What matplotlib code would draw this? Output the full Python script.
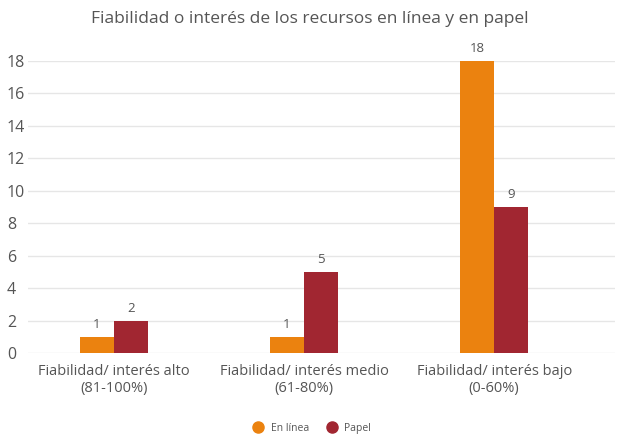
import matplotlib.pyplot as plt
from matplotlib.lines import Line2D
import numpy as np

categorias = ["Fiabilidad/ interés alto\n(81-100%)",
              "Fiabilidad/ interés medio\n(61-80%)",
              "Fiabilidad/ interés bajo\n(0-60%)"]
en_linea = [1, 1, 18]
papel = [2, 5, 9]
series = ["En línea", "Papel"]
colores = ["#EB820F", "#A12631"]

plt.rcParams['font.family'] = ['Open Sans', 'DejaVu Sans']
gris = "#555555"

fig = plt.figure(figsize=(6.19, 4.38), dpi=100)
ax = fig.add_axes([0.045, 0.194, 0.949, 0.667])

x = np.arange(len(categorias))
w = 0.18
b1 = ax.bar(x - w / 2, en_linea, w, color=colores[0], zorder=3)
b2 = ax.bar(x + w / 2, papel, w, color=colores[1], zorder=3)
for bars in (b1, b2):
    for r in bars:
        ax.text(r.get_x() + r.get_width() / 2, r.get_height() + 0.35,
                f"{int(r.get_height())}", ha="center", va="bottom",
                fontsize=9.5, color=gris)

ax.set_ylim(0, 18)
ax.set_xlim(-0.453, 2.637)
ax.set_yticks(range(0, 19, 2))
ax.set_xticks(x)
ax.set_xticklabels(categorias, fontsize=10.5, color=gris)
ax.tick_params(axis="y", labelsize=11.5, colors=gris, length=0, pad=15)
ax.tick_params(axis="x", length=0, pad=8)
ax.grid(axis="y", color="#e6e6e6", linewidth=1, zorder=0)
for s in ax.spines.values():
    s.set_visible(False)
for lbl in ax.get_yticklabels():
    lbl.set_horizontalalignment("left")

fig.suptitle("Fiabilidad o interés de los recursos en línea y en papel",
             fontsize=12.5, color=gris, y=0.975)

handles = [Line2D([], [], marker="o", linestyle="none", markersize=8,
                  color=c) for c in colores]
fig.legend(handles, series, loc="lower center", ncol=2, frameon=False,
           fontsize=7.5, labelcolor=gris, handletextpad=0.2,
           columnspacing=1.2, bbox_to_anchor=(0.5, -0.012))

fig.savefig("out.png", dpi=100)
